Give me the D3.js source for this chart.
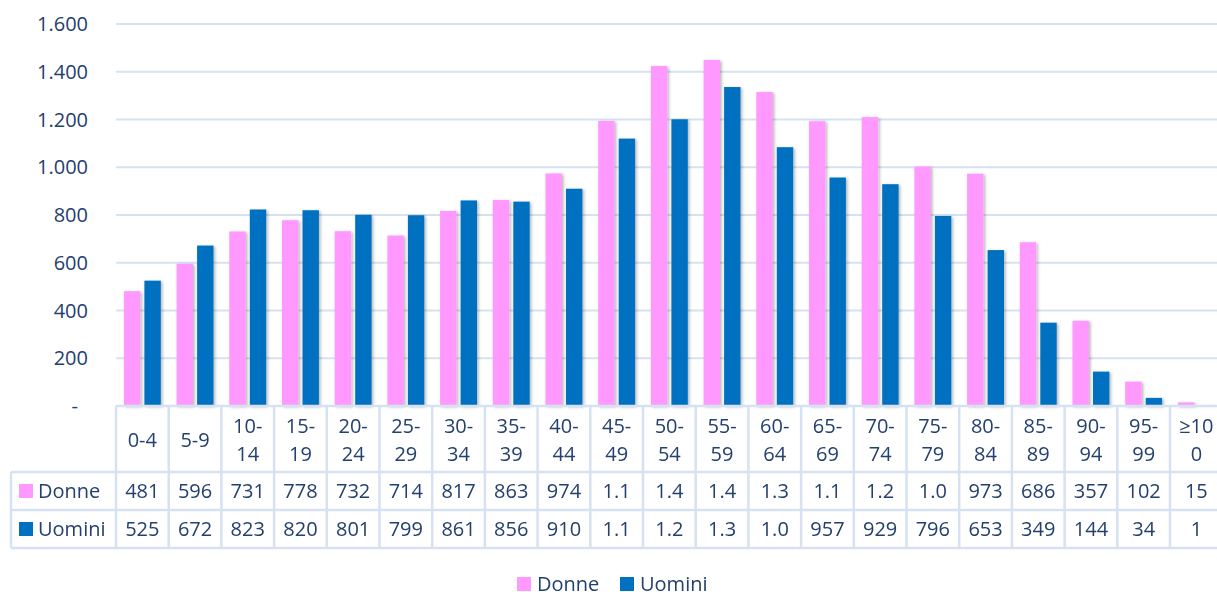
<!DOCTYPE html>
<html>
<head>
<meta charset="utf-8">
<script src="https://cdn.jsdelivr.net/npm/d3@7"></script>
<style>
  body { margin: 0; background: #fff; }
  svg { display: block; font-family: "Open Sans", sans-serif; }
</style>
</head>
<body>
<svg id="chart" width="1217" height="592"></svg>
<script>
const ageGroups = ["0-4", "5-9", "10-14", "15-19", "20-24", "25-29", "30-34", "35-39",
  "40-44", "45-49", "50-54", "55-59", "60-64", "65-69", "70-74", "75-79", "80-84",
  "85-89", "90-94", "95-99", "≥100"];
const donne = [481, 596, 731, 778, 732, 714, 817, 863, 974, 1194, 1424, 1449, 1315,
  1193, 1210, 1003, 973, 686, 357, 102, 15];
const uomini = [525, 672, 823, 820, 801, 799, 861, 856, 910, 1120, 1201, 1336, 1084,
  957, 929, 796, 653, 349, 144, 34, 1];
const seriesNames = ["Donne", "Uomini"];
const yTicks = [0, 200, 400, 600, 800, 1000, 1200, 1400, 1600];

const colors = { Donne: "#ff99ff", Uomini: "#0070c0" };
const textColor = "#24406e";
const gridColor = "#d6e2f1";
const fontSize = 20;

const svg = d3.select("#chart");
const plotLeft = 116, colW = 52.7;
const plotRight = plotLeft + colW * ageGroups.length;
const plotTop = 24, base = 406;

const y = d3.scaleLinear().domain([0, 1600]).range([base, plotTop]);
const x0 = d3.scaleBand().domain(ageGroups).range([plotLeft, plotRight])
  .paddingInner(0.3).paddingOuter(0.15);
const x1 = d3.scaleBand().domain(seriesNames).range([0, x0.bandwidth()])
  .paddingInner(0.2);

// shadow under the bars
const defs = svg.append("defs");
defs.append("filter").attr("id", "shadow")
  .attr("x", "-20%").attr("y", "-5%").attr("width", "160%").attr("height", "115%")
  .append("feDropShadow")
  .attr("dx", 1.5).attr("dy", 1).attr("stdDeviation", 1.5)
  .attr("flood-color", "#000").attr("flood-opacity", 0.3);

// gridlines
svg.append("g").selectAll("line")
  .data(yTicks.slice(1))
  .join("line")
  .attr("x1", plotLeft).attr("x2", plotRight)
  .attr("y1", d => y(d)).attr("y2", d => y(d))
  .attr("stroke", gridColor).attr("stroke-width", 2);

// y labels
const fmtY = d => d === 0 ? "-" : d3.format(",")(d).replace(/,/g, ".");
svg.append("g").selectAll("text")
  .data(yTicks)
  .join("text")
  .attr("x", d => d === 0 ? 78 : 88)
  .attr("y", d => y(d))
  .attr("dy", "0.35em")
  .attr("text-anchor", "end")
  .attr("fill", textColor)
  .attr("font-size", fontSize)
  .text(fmtY);

// bars
const rows = ageGroups.map((g, i) => ({ group: g, Donne: donne[i], Uomini: uomini[i] }));
svg.append("g").attr("filter", "url(#shadow)")
  .selectAll("g")
  .data(rows)
  .join("g")
  .attr("transform", d => `translate(${x0(d.group)},0)`)
  .selectAll("rect")
  .data(d => seriesNames.map(s => ({ key: s, value: d[s] })))
  .join("rect")
  .attr("x", d => x1(d.key))
  .attr("width", x1.bandwidth())
  .attr("y", d => y(d.value))
  .attr("height", d => base - y(d.value))
  .attr("fill", d => colors[d.key]);

// data table
const tbl = svg.append("g");
const hdrTop = base, hdrBot = 472, row1Bot = 510, row2Bot = 548, labelLeft = 11;
const lineStyle = sel => sel.attr("stroke", gridColor).attr("stroke-width", 2.5);

// horizontal lines
tbl.append("line").attr("x1", plotLeft).attr("x2", plotRight)
  .attr("y1", hdrTop).attr("y2", hdrTop).call(lineStyle);
[hdrBot, row1Bot, row2Bot].forEach(yy => {
  tbl.append("line").attr("x1", labelLeft).attr("x2", plotRight)
    .attr("y1", yy).attr("y2", yy).call(lineStyle);
});
// vertical lines
d3.range(ageGroups.length + 1).forEach(i => {
  const xx = plotLeft + i * colW;
  tbl.append("line").attr("x1", xx).attr("x2", xx)
    .attr("y1", hdrTop).attr("y2", row2Bot).call(lineStyle);
});
tbl.append("line").attr("x1", labelLeft).attr("x2", labelLeft)
  .attr("y1", hdrBot).attr("y2", row2Bot).call(lineStyle);

// header labels (wrapped like the original)
const wrap = s => s.length > 3 ? [s.slice(0, 3), s.slice(3)] : [s];
const hdr = tbl.append("g").selectAll("text")
  .data(ageGroups)
  .join("text")
  .attr("text-anchor", "middle")
  .attr("fill", textColor)
  .attr("font-size", fontSize)
  .attr("x", (d, i) => plotLeft + (i + 0.5) * colW);
hdr.each(function (d) {
  const lines = wrap(d);
  const cy = (hdrTop + hdrBot) / 2 + 1;
  const lh = 28;
  lines.forEach((l, j) => {
    d3.select(this).append("tspan")
      .attr("x", d3.select(this).attr("x"))
      .attr("y", cy + (j - (lines.length - 1) / 2) * lh)
      .attr("dy", "0.35em")
      .text(l);
  });
});

// value rows
const fmtVal = v => v >= 1000 ? (Math.floor(v / 100) / 10).toFixed(1) : String(v);
const seriesRows = [
  { name: "Donne", values: donne, cy: (hdrBot + row1Bot) / 2 },
  { name: "Uomini", values: uomini, cy: (row1Bot + row2Bot) / 2 }
];
seriesRows.forEach(r => {
  tbl.append("rect")
    .attr("x", 19).attr("y", r.cy - 7).attr("width", 14).attr("height", 14)
    .attr("fill", colors[r.name]);
  tbl.append("text")
    .attr("x", 38).attr("y", r.cy).attr("dy", "0.35em")
    .attr("fill", textColor).attr("font-size", fontSize)
    .text(r.name);
  tbl.append("g").selectAll("text")
    .data(r.values)
    .join("text")
    .attr("x", (d, i) => plotLeft + (i + 0.5) * colW)
    .attr("y", r.cy).attr("dy", "0.35em")
    .attr("text-anchor", "middle")
    .attr("fill", textColor).attr("font-size", fontSize)
    .text(fmtVal);
});

// legend
const legend = svg.append("g");
const legendItems = [{ name: "Donne", x: 517 }, { name: "Uomini", x: 620 }];
legendItems.forEach(it => {
  legend.append("rect")
    .attr("x", it.x).attr("y", 577).attr("width", 14).attr("height", 14)
    .attr("fill", colors[it.name]);
  legend.append("text")
    .attr("x", it.x + 20).attr("y", 584).attr("dy", "0.35em")
    .attr("fill", textColor).attr("font-size", fontSize)
    .text(it.name);
});
</script>
</body>
</html>
